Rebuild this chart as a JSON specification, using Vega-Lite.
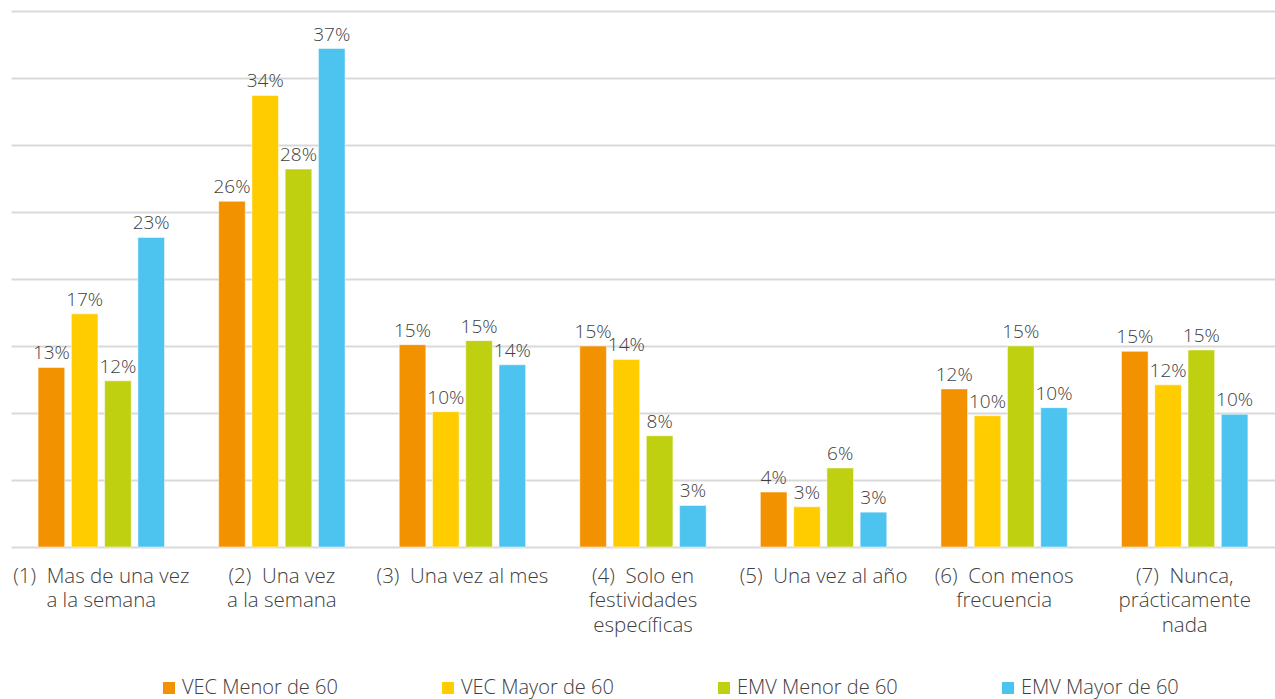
{
  "$schema": "https://vega.github.io/schema/vega-lite/v6.json",
  "width": 1264,
  "height": 536,
  "autosize": {"type": "none"},
  "padding": {"left": 11, "top": 11, "right": 0, "bottom": 152},
  "background": "white",
  "config": {
    "font": "Open Sans",
    "view": {"stroke": null}
  },
  "data": {
    "values": [
      {"cat": "(1)  Mas de una vez|a la semana", "serie": "VEC Menor de 60", "v": 0.134},
      {"cat": "(1)  Mas de una vez|a la semana", "serie": "VEC Mayor de 60", "v": 0.174},
      {"cat": "(1)  Mas de una vez|a la semana", "serie": "EMV Menor de 60", "v": 0.124},
      {"cat": "(1)  Mas de una vez|a la semana", "serie": "EMV Mayor de 60", "v": 0.231},
      {"cat": "(2)  Una vez|a la semana", "serie": "VEC Menor de 60", "v": 0.258},
      {"cat": "(2)  Una vez|a la semana", "serie": "VEC Mayor de 60", "v": 0.337},
      {"cat": "(2)  Una vez|a la semana", "serie": "EMV Menor de 60", "v": 0.282},
      {"cat": "(2)  Una vez|a la semana", "serie": "EMV Mayor de 60", "v": 0.372},
      {"cat": "(3)  Una vez al mes", "serie": "VEC Menor de 60", "v": 0.151},
      {"cat": "(3)  Una vez al mes", "serie": "VEC Mayor de 60", "v": 0.101},
      {"cat": "(3)  Una vez al mes", "serie": "EMV Menor de 60", "v": 0.154},
      {"cat": "(3)  Una vez al mes", "serie": "EMV Mayor de 60", "v": 0.136},
      {"cat": "(4)  Solo en|festividades|específicas", "serie": "VEC Menor de 60", "v": 0.150},
      {"cat": "(4)  Solo en|festividades|específicas", "serie": "VEC Mayor de 60", "v": 0.140},
      {"cat": "(4)  Solo en|festividades|específicas", "serie": "EMV Menor de 60", "v": 0.083},
      {"cat": "(4)  Solo en|festividades|específicas", "serie": "EMV Mayor de 60", "v": 0.031},
      {"cat": "(5)  Una vez al año", "serie": "VEC Menor de 60", "v": 0.041},
      {"cat": "(5)  Una vez al año", "serie": "VEC Mayor de 60", "v": 0.030},
      {"cat": "(5)  Una vez al año", "serie": "EMV Menor de 60", "v": 0.059},
      {"cat": "(5)  Una vez al año", "serie": "EMV Mayor de 60", "v": 0.026},
      {"cat": "(6)  Con menos|frecuencia", "serie": "VEC Menor de 60", "v": 0.118},
      {"cat": "(6)  Con menos|frecuencia", "serie": "VEC Mayor de 60", "v": 0.098},
      {"cat": "(6)  Con menos|frecuencia", "serie": "EMV Menor de 60", "v": 0.150},
      {"cat": "(6)  Con menos|frecuencia", "serie": "EMV Mayor de 60", "v": 0.104},
      {"cat": "(7)  Nunca,|prácticamente|nada", "serie": "VEC Menor de 60", "v": 0.146},
      {"cat": "(7)  Nunca,|prácticamente|nada", "serie": "VEC Mayor de 60", "v": 0.121},
      {"cat": "(7)  Nunca,|prácticamente|nada", "serie": "EMV Menor de 60", "v": 0.147},
      {"cat": "(7)  Nunca,|prácticamente|nada", "serie": "EMV Mayor de 60", "v": 0.099}
    ]
  },
  "encoding": {
    "x": {
      "field": "cat",
      "type": "nominal",
      "sort": null,
      "scale": {"paddingInner": 0.3, "paddingOuter": 0.15},
      "axis": {
        "title": null,
        "labelAngle": 0,
        "labelExpr": "split(replace(datum.label, '  ', '\u00a0\u00a0'), '|')",
        "labelFont": "Open Sans",
        "labelFontWeight": 300,
        "labelFontSize": 20.5,
        "labelLineHeight": 24.5,
        "labelColor": "#404040",
        "labelPadding": 19,
        "labelLimit": 0,
        "ticks": false,
        "domain": false
      }
    },
    "xOffset": {
      "field": "serie",
      "type": "nominal",
      "sort": ["VEC Menor de 60", "VEC Mayor de 60", "EMV Menor de 60", "EMV Mayor de 60"],
      "scale": {"paddingInner": 0.2, "paddingOuter": 0}
    },
    "y": {
      "field": "v",
      "type": "quantitative",
      "scale": {"domain": [0, 0.4], "nice": false},
      "axis": {
        "title": null,
        "labels": false,
        "ticks": false,
        "domain": false,
        "grid": true,
        "gridColor": "#d9d9d9",
        "gridWidth": 2,
        "values": [0, 0.05, 0.1, 0.15, 0.2, 0.25, 0.3, 0.35, 0.4]
      }
    }
  },
  "layer": [
    {
      "mark": {"type": "bar", "stroke": "white", "strokeWidth": 0.5},
      "encoding": {
        "color": {
          "field": "serie",
          "type": "nominal",
          "sort": ["VEC Menor de 60", "VEC Mayor de 60", "EMV Menor de 60", "EMV Mayor de 60"],
          "scale": {
            "domain": ["VEC Menor de 60", "VEC Mayor de 60", "EMV Menor de 60", "EMV Mayor de 60"],
            "range": ["#F39200", "#FFCC00", "#BED010", "#4DC3F0"]
          },
          "legend": {
            "title": null,
            "orient": "none",
            "direction": "horizontal",
            "columns": 4,
            "legendX": 148,
            "legendY": 667,
            "symbolType": "square",
            "symbolSize": 144,
            "symbolStrokeWidth": 0,
            "symbolOffset": 0,
            "labelOffset": 3,
            "labelFont": "Open Sans",
            "labelFontWeight": 300,
            "labelFontSize": 20,
            "labelLimit": 400,
            "labelColor": "#404040",
            "columnPadding": 100,
            "padding": 0
          }
        }
      }
    },
    {
      "mark": {"type": "text", "baseline": "bottom", "dy": -4, "font": "Open Sans", "fontWeight": 300, "fontSize": 19, "color": "#404040"},
      "encoding": {
        "text": {"field": "v", "type": "quantitative", "format": ".0%"}
      }
    }
  ]
}
